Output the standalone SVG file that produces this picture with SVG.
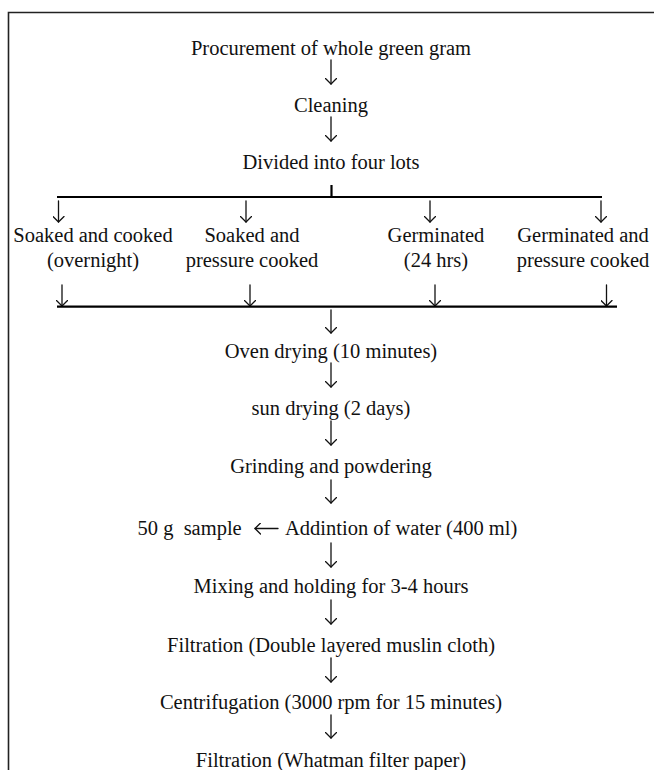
<svg xmlns="http://www.w3.org/2000/svg" width="654" height="770" viewBox="0 0 654 770">
<style>
  text { font-family: "Liberation Serif", "Times New Roman", serif; font-size: 20.5px; fill: #111; white-space: pre; }
  .c { text-anchor: middle; }
  .frame { fill: none; stroke: #222; stroke-width: 1.6; }
  .bus { fill: none; stroke: #000; stroke-width: 2.2; }
  .arr { fill: none; stroke: #111; stroke-width: 1.3; stroke-linecap: round; stroke-linejoin: round; }
</style>
<defs>
  <marker id="head" viewBox="-6 -6 12 12" markerWidth="12" markerHeight="12" markerUnits="userSpaceOnUse" orient="auto" refX="0" refY="0">
    <path d="M-5.5,-5.5 L0,0 L-5.5,5.5" fill="none" stroke="#111" stroke-width="1.3" stroke-linecap="round" stroke-linejoin="round"/>
  </marker>
</defs>
<rect width="654" height="770" fill="#fff"/>
<path class="frame" d="M8.5,770 V12.5 H654"/>

<g id="connectors">
  <line class="arr" x1="331" y1="60" x2="331" y2="84" marker-end="url(#head)"/>
  <line class="arr" x1="331" y1="117" x2="331" y2="141" marker-end="url(#head)"/>
  <line class="bus" x1="331.5" y1="185" x2="331.5" y2="197"/>
  <line class="bus" x1="57" y1="197" x2="602" y2="197"/>
  <line class="arr" x1="58.5" y1="201" x2="58.5" y2="222" marker-end="url(#head)"/>
  <line class="arr" x1="246" y1="201" x2="246" y2="222" marker-end="url(#head)"/>
  <line class="arr" x1="430" y1="201" x2="430" y2="222" marker-end="url(#head)"/>
  <line class="arr" x1="601" y1="201" x2="601" y2="222" marker-end="url(#head)"/>
  <line class="arr" x1="62" y1="285" x2="62" y2="306" marker-end="url(#head)"/>
  <line class="arr" x1="250" y1="285" x2="250" y2="306" marker-end="url(#head)"/>
  <line class="arr" x1="435" y1="285" x2="435" y2="306" marker-end="url(#head)"/>
  <line class="arr" x1="606.5" y1="285" x2="606.5" y2="306" marker-end="url(#head)"/>
  <line class="bus" x1="57" y1="306.7" x2="617" y2="306.7"/>
  <line class="arr" x1="331" y1="310" x2="331" y2="333" marker-end="url(#head)"/>
  <line class="arr" x1="331" y1="363" x2="331" y2="387" marker-end="url(#head)"/>
  <line class="arr" x1="331" y1="421" x2="331" y2="445" marker-end="url(#head)"/>
  <line class="arr" x1="331" y1="480" x2="331" y2="503" marker-end="url(#head)"/>
  <line class="arr" x1="278" y1="528.5" x2="255" y2="528.5" marker-end="url(#head)"/>
  <line class="arr" x1="331" y1="543" x2="331" y2="567" marker-end="url(#head)"/>
  <line class="arr" x1="331" y1="600" x2="331" y2="624" marker-end="url(#head)"/>
  <line class="arr" x1="331" y1="658" x2="331" y2="682" marker-end="url(#head)"/>
  <line class="arr" x1="331" y1="715" x2="331" y2="738" marker-end="url(#head)"/>
</g>

<g id="n-procurement"><text class="c" x="331" y="55">Procurement of whole green gram</text></g>
<g id="n-cleaning"><text class="c" x="331" y="112">Cleaning</text></g>
<g id="n-divided"><text class="c" x="331" y="169">Divided into four lots</text></g>
<g id="n-soaked-cooked"><text class="c" x="93" y="242">Soaked and cooked</text><text class="c" x="93" y="267">(overnight)</text></g>
<g id="n-soaked-pressure"><text class="c" x="252" y="242">Soaked and</text><text class="c" x="252" y="267">pressure cooked</text></g>
<g id="n-germinated"><text class="c" x="436" y="242">Germinated</text><text class="c" x="436" y="267">(24 hrs)</text></g>
<g id="n-germinated-pressure"><text class="c" x="583" y="242">Germinated and</text><text class="c" x="583" y="267">pressure cooked</text></g>
<g id="n-oven"><text class="c" x="331" y="358">Oven drying (10 minutes)</text></g>
<g id="n-sun"><text class="c" x="331" y="415">sun drying (2 days)</text></g>
<g id="n-grinding"><text class="c" x="331" y="473">Grinding and powdering</text></g>
<g id="n-sample"><text x="137.5" y="535">50 g  sample</text></g>
<g id="n-water"><text x="285" y="535">Addintion of water (400 ml)</text></g>
<g id="n-mixing"><text class="c" x="331" y="593">Mixing and holding for 3-4 hours</text></g>
<g id="n-filtration1"><text class="c" x="331" y="651.5">Filtration (Double layered muslin cloth)</text></g>
<g id="n-centrifugation"><text class="c" x="331" y="709">Centrifugation (3000 rpm for 15 minutes)</text></g>
<g id="n-filtration2"><text class="c" x="331" y="766.5">Filtration (Whatman filter paper)</text></g>
</svg>
